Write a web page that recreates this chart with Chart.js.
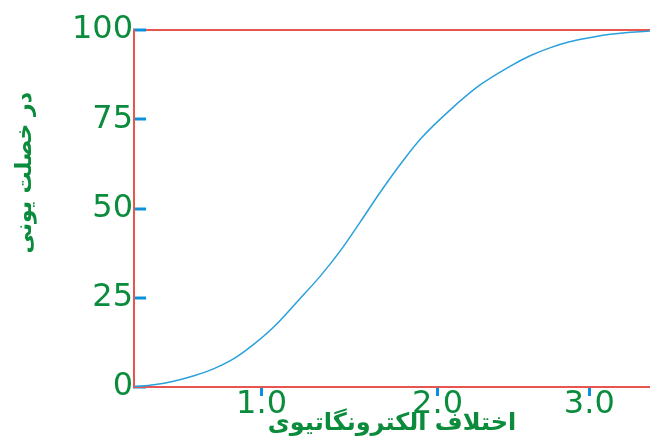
<!doctype html>
<html lang="fa">
<head>
<meta charset="utf-8" />
<title>درصد خصلت یونی</title>
<script src="https://cdn.jsdelivr.net/npm/chart.js@4"></script>
<style>
  html, body { margin: 0; padding: 0; background: #fff; }
  canvas { display: block; }
</style>
</head>
<body>
<canvas id="chart" width="650" height="440"></canvas>
<script>
// curve (x in the chart's own axis units, y in percent)
const xValues = [0, 0.13, 0.26, 0.40, 0.53, 0.66, 0.79, 0.92, 1.09, 1.23, 1.36, 1.49, 1.62,
                 1.75, 1.89, 2.08, 2.28, 2.48, 2.61, 2.74, 2.87, 3.01, 3.14, 3.27, 3.40];
const yValues = [0, 0.6, 1.6, 3.2, 5.2, 8.0, 12.0, 16.8, 24.6, 31.2, 38.2, 46.2, 54.4,
                 62.1, 69.6, 77.5, 84.6, 89.9, 92.8, 95.0, 96.7, 97.9, 98.8, 99.4, 99.7];

// x ticks sit where the reference puts them (the "1.0" mark is drawn left of a linear spot)
const xTickPositions = [0.84, 2.0, 3.0];
const xTickLabels = ["1.0", "2.0", "3.0"];
const yTicks = [0, 25, 50, 75, 100];

const xTitle = "اختلاف الکترونگاتیوی";
const yTitle = "در خصلت یونی";

const GREEN = "#0a8c3c";
const RED = "#e8544e";
const TICK_BLUE = "#0a90dc";
const LINE_BLUE = "#2aa0dc";

// y title is drawn by hand: the reference places it above the middle of the axis
const yTitlePlugin = {
  id: "yTitle",
  afterDraw(chart) {
    const { ctx, chartArea } = chart;
    ctx.save();
    ctx.translate(25, chartArea.top + 0.4 * (chartArea.bottom - chartArea.top));
    ctx.rotate(-Math.PI / 2);
    ctx.font = 'bold 22px "DejaVu Sans"';
    ctx.fillStyle = GREEN;
    ctx.textAlign = "center";
    ctx.textBaseline = "middle";
    ctx.fillText(yTitle, 0, 0);
    ctx.restore();
  },
};

new Chart(document.getElementById("chart"), {
  type: "line",
  data: {
    datasets: [{
      data: xValues.map((x, i) => ({ x, y: yValues[i] })),
      borderColor: LINE_BLUE,
      borderWidth: 1.5,
      pointRadius: 0,
      cubicInterpolationMode: "monotone",
      fill: false,
    }],
  },
  options: {
    responsive: false,
    animation: false,
    devicePixelRatio: 1,
    layout: { padding: { left: 59, top: 30, right: 0, bottom: 0 } },
    plugins: { legend: { display: false }, tooltip: { enabled: false } },
    scales: {
      x: {
        type: "linear",
        min: 0,
        max: 3.4,
        afterBuildTicks: (scale) => { scale.ticks = xTickPositions.map((v) => ({ value: v })); },
        ticks: {
          autoSkip: false,
          maxRotation: 0,
          padding: -7,
          color: GREEN,
          font: { family: "DejaVu Sans", size: 32, lineHeight: 1 },
          callback: (value, index) => xTickLabels[index],
        },
        grid: { drawOnChartArea: false, tickLength: 9, tickWidth: 3, tickColor: TICK_BLUE },
        border: { display: true, color: RED, width: 2 },
        title: {
          display: true,
          text: xTitle,
          color: GREEN,
          font: { family: "DejaVu Sans", size: 24, weight: "bold", lineHeight: 1 },
          padding: { top: -2, bottom: 4 },
        },
      },
      y: {
        min: 0,
        max: 100,
        afterBuildTicks: (scale) => { scale.ticks = yTicks.map((v) => ({ value: v })); },
        ticks: {
          padding: 13,
          color: GREEN,
          font: { family: "DejaVu Sans", size: 32, lineHeight: 1 },
        },
        grid: {
          color: (ctx) => (ctx.tick && ctx.tick.value === 100 ? RED : "rgba(0,0,0,0)"),
          lineWidth: 2,
          tickLength: -12,
          tickWidth: 3,
          tickColor: TICK_BLUE,
        },
        border: { display: true, color: RED, width: 2 },
      },
    },
  },
  plugins: [yTitlePlugin],
});
</script>
</body>
</html>
